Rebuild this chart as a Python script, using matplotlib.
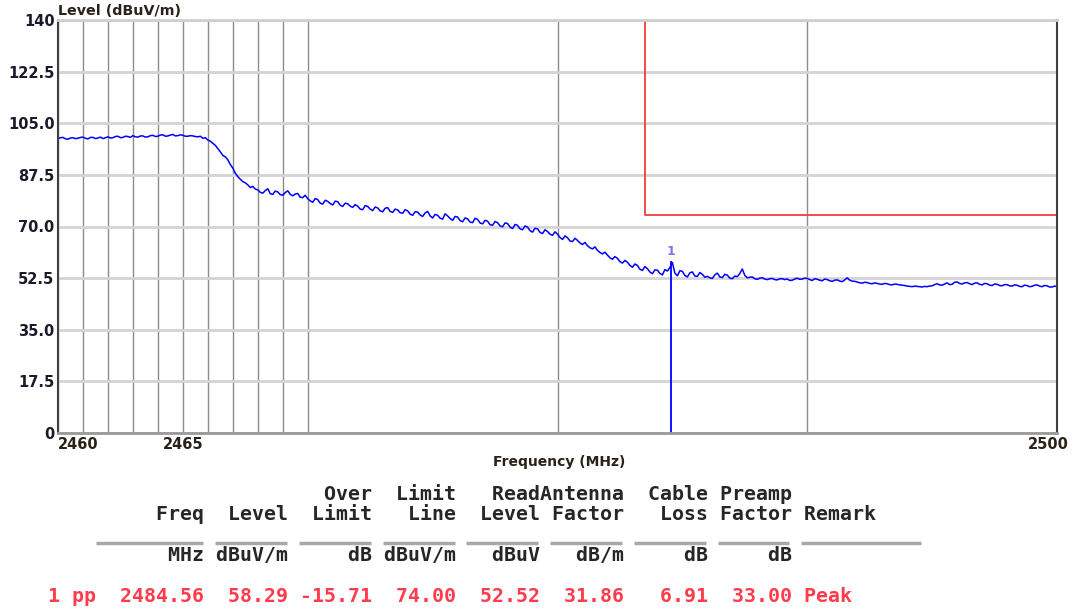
import numpy as np
import matplotlib.pyplot as plt
from matplotlib.transforms import ScaledTranslation

# measured trace, 2460 - 2500 MHz sweep, one row per MHz
level = [
    99.8, 100.1, 100.2, 99.7, 99.6, 100.0, 100.1, 99.8, 99.9, 100.2,
    100.3, 99.9, 99.7, 100.2, 100.2, 99.8, 100.0, 100.3, 99.8, 100.1,
    100.4, 100.0, 100.1, 100.5, 100.6, 100.1, 100.2, 100.6, 100.5, 100.2,
    100.8, 100.4, 100.3, 100.7, 100.7, 100.3, 100.4, 100.8, 100.9, 100.5,
    100.6, 101.0, 101.1, 100.6, 100.7, 101.0, 101.2, 100.7, 100.8, 101.1,
    100.9, 100.6, 100.6, 100.8, 100.7, 100.5, 100.4, 100.6, 99.9, 100.1,
    99.3, 98.9, 98.2, 97.5, 96.4, 95.3, 94.1, 93.6, 92.6, 91.0,
    89.8, 88.1, 86.9, 86.0, 85.2, 84.8, 84.1, 83.2, 83.6, 82.7,
    82.4, 81.6, 81.3, 82.2, 82.8, 81.1, 80.9, 82.0, 81.7, 80.8,
    80.6, 81.5, 82.1, 80.9, 80.4, 81.0, 81.2, 79.9, 79.8, 80.6,
    79.4, 78.7, 78.2, 79.5, 79.1, 77.9, 77.6, 78.9, 78.5, 77.8,
    77.3, 78.6, 78.4, 77.2, 76.8, 77.9, 77.7, 76.9, 76.5, 77.4,
    76.9, 75.9, 75.7, 77.1, 76.8, 75.9, 75.4, 76.6, 76.3, 75.3,
    75.0, 76.2, 76.4, 75.1, 74.8, 75.9, 75.6, 74.7, 74.5, 75.7,
    75.3, 74.2, 73.8, 75.0, 74.9, 73.9, 73.4, 74.6, 75.1, 73.6,
    72.9, 74.1, 73.8, 72.8, 72.5, 74.3, 73.6, 72.7, 72.1, 73.4,
    73.2, 72.0, 71.6, 72.9, 72.6, 71.5, 71.3, 72.8, 72.4, 71.2,
    70.9, 72.1, 71.8, 70.6, 70.4, 71.7, 71.3, 70.2, 69.9, 71.2,
    71.0, 69.8, 69.3, 70.7, 70.4, 69.2, 68.9, 70.2, 69.8, 68.6,
    68.1, 69.4, 69.2, 68.0, 67.6, 68.9, 68.3, 67.4, 67.0, 68.2,
    67.4, 66.3, 65.6, 66.8, 66.2, 65.1, 64.9, 66.0, 65.3, 64.4,
    63.9, 64.6, 63.5, 62.8, 62.4, 63.1, 61.9, 61.2, 60.7, 61.3,
    60.3, 59.4, 58.9, 59.8, 59.2, 58.1, 57.6, 58.5, 57.9, 56.8,
    56.2, 57.3, 56.8, 55.5, 55.1, 56.4, 55.7, 54.6, 54.0, 55.3,
    55.2, 54.1, 53.6, 55.4, 54.9, 56.1, 57.8, 54.2, 53.3, 55.0,
    54.8, 53.4, 52.9, 54.3, 54.6, 53.2, 53.1, 54.4, 53.8, 52.8,
    53.1, 52.6, 52.4, 53.6, 54.2, 52.9, 52.7, 53.8, 53.5, 52.5,
    52.3, 53.2, 53.0, 54.1, 55.6, 53.4, 52.6, 52.8, 52.9, 52.3,
    52.1, 52.5, 52.6, 52.2, 52.0, 52.3, 52.4, 52.0, 51.9, 52.3,
    52.3, 52.0, 52.2, 51.7, 51.8, 52.2, 52.5, 52.1, 52.2, 52.5,
    52.4, 52.0, 51.7, 52.3, 52.1, 51.8, 51.6, 52.2, 52.0, 51.6,
    51.4, 51.8, 51.9, 51.5, 51.3, 51.9, 52.6, 51.8, 51.5, 51.4,
    51.2, 50.9, 50.8, 51.1, 51.0, 50.7, 50.6, 50.9, 50.7, 50.5,
    50.4, 50.7, 50.6, 50.3, 50.2, 50.5, 50.4, 50.2, 50.1, 50.0,
    49.8, 49.7, 49.6, 49.8, 49.7, 49.6, 49.5, 49.7, 49.6, 49.8,
    49.9, 50.3, 50.6, 50.2, 50.1, 50.5, 50.9, 50.3, 50.4, 51.1,
    51.2, 50.7, 50.5, 50.9, 51.0, 50.6, 50.3, 50.8, 50.9, 50.4,
    50.2, 50.7, 50.6, 50.1, 50.0, 50.5, 50.4, 50.0, 49.9, 50.3,
    50.3, 49.9, 49.8, 50.2, 50.1, 49.7, 49.6, 50.1, 50.0, 49.6,
    49.7, 50.1, 50.2, 49.8, 49.6, 50.0, 49.9, 49.5, 49.5, 49.8,
    49.6,
]
freq = np.linspace(2460, 2500, len(level))

limit_freq = [2483.5, 2483.5, 2500]
limit_level = [140, 74, 74]

marker_freq = 2484.56
marker_level = 58.29

y_ticks = [0, 17.5, 35, 52.5, 70, 87.5, 105, 122.5, 140]
y_tick_labels = ["0", "17.5", "35.0", "52.5", "70.0", "87.5", "105.0", "122.5", "140"]
x_major = [2460, 2465, 2500]
x_minor = [2461, 2462, 2463, 2464, 2466, 2467, 2468, 2469, 2470, 2480, 2490]

# result table
row_label = "1 pp"
head_top = ["", "", "Over", "Limit", "Read", "Antenna", "Cable", "Preamp"]
head_mid = ["Freq", "Level", "Limit", "Line", "Level", "Factor", "Loss", "Factor"]
units = ["MHz", "dBuV/m", "dB", "dBuV/m", "dBuV", "dB/m", "dB", "dB"]
values = ["2484.56", "58.29", "-15.71", "74.00", "52.52", "31.86", "6.91", "33.00"]
remark_head = "Remark"
remark = "Peak"

W, H = 1075, 611
fig = plt.figure(figsize=(W / 100, H / 100), dpi=100)

# table drawn in pixel coordinates on an invisible overlay
tab = fig.add_axes([0, 0, 1, 1])
tab.set_xlim(0, W)
tab.set_ylim(H, 0)
tab.axis("off")

mono_pt = 14.3
cw = 0.602 * mono_pt * 100 / 72
x0 = 48


def line(lead, cells, tail):
    return f"{lead:<6}" + "".join(f"{c:>7}" for c in cells) + " " + tail


mono = dict(family="DejaVu Sans Mono", fontsize=mono_pt, fontweight="bold",
            ha="left", va="baseline")
tab.text(x0, 500, line("", head_top, ""), color="#262626", **mono)
tab.text(x0, 520, line("", head_mid, remark_head), color="#262626", **mono)
tab.text(x0, 561, line("", units, ""), color="#262626", **mono)
tab.text(x0, 602, line(row_label, values, remark), color="#ff3b4e", **mono)

segs = [(4, 13)] + [(7 + 7 * i, 13 + 7 * i) for i in range(1, 8)] + [(63, 73)]
for a, b in segs:
    tab.plot([x0 + a * cw, x0 + b * cw], [543, 543], color="#a8a8a8", lw=2.5,
             solid_capstyle="butt")

# chart
ax = fig.add_axes([58 / W, 1 - 433 / H, 999 / W, 413 / H])
ax.set_xlim(2460, 2500)
ax.set_ylim(0, 140)

ax.set_yticks(y_ticks)
ax.set_yticklabels(y_tick_labels)
ax.set_xticks(x_major)
ax.set_xticks(x_minor, minor=True)
ax.tick_params(which="both", length=0)
ax.tick_params(axis="y", pad=2.5, labelsize=10.5, labelcolor="#1a1a2a")
ax.tick_params(axis="x", pad=3, labelsize=10.5, labelcolor="#2a2218")
for t in ax.get_xticklabels() + ax.get_yticklabels():
    t.set_fontweight("bold")

xl = ax.get_xticklabels()
xl[0].set_ha("left")
xl[2].set_transform(xl[2].get_transform() + ScaledTranslation(-0.09, 0, fig.dpi_scale_trans))

ax.grid(axis="y", color="#d4d4d4", lw=2)
ax.grid(axis="x", which="both", color="#8c8c8c", lw=1)
ax.set_axisbelow(True)

for side in ["left", "right"]:
    ax.spines[side].set_color("#404040")
    ax.spines[side].set_linewidth(1.5)
ax.spines["top"].set_color("#cfcfcf")
ax.spines["top"].set_linewidth(2)
ax.spines["bottom"].set_color("#9a9a9a")
ax.spines["bottom"].set_linewidth(2)

ax.plot(freq, level, color="#0000ff", lw=1.1)
ax.plot(limit_freq, limit_level, color="#f03c3c", lw=1.3)
ax.vlines(marker_freq, 0, marker_level, color="#0000ff", lw=1.3)
ax.text(marker_freq, marker_level + 1.2, "1", color="#8a70f0", ha="center",
        va="bottom", fontsize=9, fontweight="bold")

fig.text(58 / W, 1 - 11 / H, "Level (dBuV/m)", fontsize=10.3, fontweight="bold",
         color="#2a2218", ha="left", va="center")
fig.text(559 / W, 1 - 462 / H, "Frequency (MHz)", fontsize=10, fontweight="bold",
         color="#2a2218", ha="center", va="center")

fig.savefig("out.png", dpi=100)
